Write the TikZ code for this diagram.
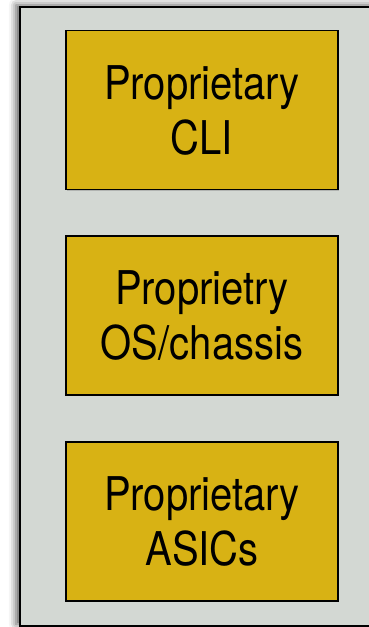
\documentclass[tikz,border=0pt]{standalone}
\usepackage{fontspec}
\setmainfont[FakeStretch=0.86]{TeX Gyre Heros}
\usetikzlibrary{shadows,shadows.blur}

\definecolor{chassisgray}{RGB}{211,216,211}
\definecolor{layergold}{RGB}{216,178,20}

\tikzset{
  chassis/.style={draw=black, line width=1.5pt, fill=chassisgray,
    blur shadow={shadow xshift=-4pt, shadow yshift=2pt,
      shadow blur radius=7pt, shadow opacity=65}},
  layer/.style={draw=black, line width=1.5pt, fill=layergold,
    minimum width=272pt, minimum height=159pt, inner sep=0pt,
    align=center, font=\fontsize{46.5}{55}\selectfont,
    drop shadow={shadow xshift=1.2pt, shadow yshift=-1.2pt, opacity=0.4}},
}

\begin{document}
\begin{tikzpicture}[x=1pt,y=-1pt]
        \useasboundingbox (0,0) rectangle (369,627);
        % outer box
        \node[chassis, minimum width=362pt, minimum height=619pt] (box) at (201,316.5) {};
        % the three layers
        \node[layer] (cli) at (202,110) {Proprietary\\CLI};
        \node[layer] (os) at (202,315.5) {Proprietry\\OS/chassis};
        \node[layer] (asic) at (202,521.5) {Proprietary\\ASICs};
\end{tikzpicture}
\end{document}
